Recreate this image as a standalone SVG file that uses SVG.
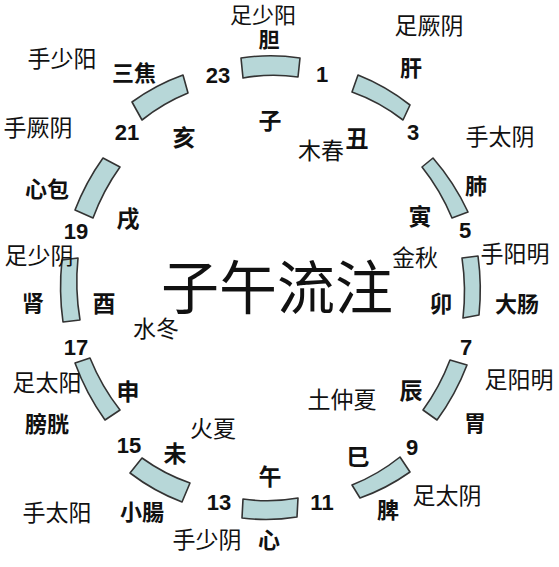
<svg xmlns="http://www.w3.org/2000/svg" width="559" height="567" viewBox="0 0 559 567">
<style>
text { fill: #111; text-anchor: middle; }
.m, .o, .b, .e, .t { font-family: "Noto Sans CJK SC", "Noto Sans", sans-serif; dominant-baseline: central; }
.m { font-size: 23px; }
.e { font-size: 23px; }
.o { font-size: 22px; font-weight: bold; }
.b { font-size: 23px; font-weight: bold; }
.t { font-size: 58px; }
.n { font-family: "Liberation Sans", Arial, sans-serif; font-size: 22px; font-weight: bold; }
.seg { fill: #b7d7d8; stroke: #333; stroke-width: 1.6; stroke-linejoin: round; }
</style>
<rect width="559" height="567" fill="#ffffff"/>

<g id="zi">
<path class="seg" d="M241,58 A211 230 0 0 1 300,58 L298,77 A190 210 0 0 0 243,78 Z"/>
<text class="m" x="263" y="13" style="font-size:22px">足少阳</text>
<text class="o" x="269" y="38" style="font-size:21px">胆</text>
<text class="b" x="270" y="119">子</text>
</g>
<g id="chou">
<path class="seg" d="M358,75 A211 230 0 0 1 410,105 L403,120 A190 210 0 0 0 352,92 Z"/>
<text class="m" x="429" y="24">足厥阴</text>
<text class="o" x="411" y="66">肝</text>
<text class="b" x="357" y="137">丑</text>
</g>
<g id="yin">
<path class="seg" d="M433,158 A211 230 0 0 1 468,212 L452,218 A190 210 0 0 0 422,167 Z"/>
<text class="m" x="500" y="135">手太阴</text>
<text class="o" x="476" y="184">肺</text>
<text class="b" x="420" y="215">寅</text>
</g>
<g id="mao">
<path class="seg" d="M478,256 A211 230 0 0 1 479,315 L463,318 A190 210 0 0 0 462,258 Z"/>
<text class="m" x="515" y="252">手阳明</text>
<text class="o" x="517" y="302">大肠</text>
<text class="b" x="441" y="302">卯</text>
</g>
<g id="chen">
<path class="seg" d="M467,365 A211 230 0 0 1 437,420 L423,410 A190 210 0 0 0 450,360 Z"/>
<text class="m" x="519" y="378">足阳明</text>
<text class="o" x="475" y="421">胃</text>
<text class="b" x="411" y="389">辰</text>
</g>
<g id="si">
<path class="seg" d="M410,472 A211 230 0 0 1 360,498 L352,485 A190 210 0 0 0 400,457 Z"/>
<text class="m" x="447" y="494">足太阴</text>
<text class="o" x="388" y="508">脾</text>
<text class="b" x="358" y="455">巳</text>
</g>
<g id="wu">
<path class="seg" d="M297,517 A211 230 0 0 1 242,518 L243,499 A190 210 0 0 0 298,498 Z"/>
<text class="m" x="207" y="538">手少阴</text>
<text class="o" x="269" y="538">心</text>
<text class="b" x="270" y="475">午</text>
</g>
<g id="wei">
<path class="seg" d="M182,502 A211 230 0 0 1 130,473 L142,458 A190 210 0 0 0 190,483 Z"/>
<text class="m" x="57" y="511">手太阳</text>
<text class="o" x="142" y="510">小腸</text>
<text class="b" x="175" y="452">未</text>
</g>
<g id="shen">
<path class="seg" d="M105,420 A211 230 0 0 1 75,363 L90,358 A190 210 0 0 0 120,410 Z"/>
<text class="m" x="47" y="381">足太阳</text>
<text class="o" x="47" y="422">膀胱</text>
<text class="b" x="128" y="390">申</text>
</g>
<g id="you">
<path class="seg" d="M63,322 A211 230 0 0 1 62,260 L78,258 A190 210 0 0 0 80,320 Z"/>
<text class="m" x="39" y="254">足少阴</text>
<text class="o" x="33" y="301">肾</text>
<text class="b" x="104" y="302">酉</text>
</g>
<g id="xu">
<path class="seg" d="M75,210 A211 230 0 0 1 103,158 L120,167 A190 210 0 0 0 93,218 Z"/>
<text class="m" x="38" y="126">手厥阴</text>
<text class="o" x="47" y="187">心包</text>
<text class="b" x="128" y="217">戌</text>
</g>
<g id="hai">
<path class="seg" d="M132,102 A211 230 0 0 1 183,75 L188,93 A190 210 0 0 0 142,120 Z"/>
<text class="m" x="62" y="57">手少阳</text>
<text class="o" x="134" y="71">三焦</text>
<text class="b" x="184" y="136">亥</text>
</g>

<g id="hours">
<text class="n" x="218" y="83">23</text>
<text class="n" x="322" y="82">1</text>
<text class="n" x="413" y="140">3</text>
<text class="n" x="465" y="238">5</text>
<text class="n" x="466" y="355">7</text>
<text class="n" x="412" y="455">9</text>
<text class="n" x="322" y="510">11</text>
<text class="n" x="219" y="510">13</text>
<text class="n" x="129" y="453">15</text>
<text class="n" x="76" y="355">17</text>
<text class="n" x="76" y="239">19</text>
<text class="n" x="127" y="140">21</text>
</g>

<g id="elements">
<text class="e" x="321" y="149">木春</text>
<text class="e" x="415" y="256">金秋</text>
<text class="e" x="342" y="398">土仲夏</text>
<text class="e" x="213" y="427">火夏</text>
<text class="e" x="156" y="327">水冬</text>
</g>

<g id="title">
<text class="t" x="277" y="284">子午流注</text>
</g>
</svg>
